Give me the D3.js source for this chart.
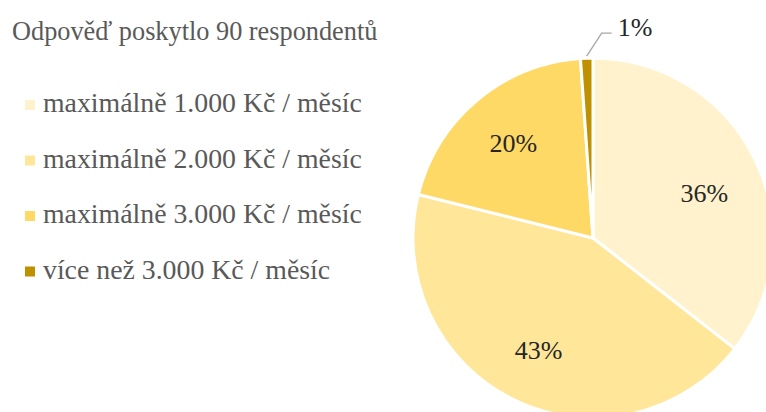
<!DOCTYPE html>
<html>
<head>
<meta charset="utf-8">
<script src="https://cdn.jsdelivr.net/npm/d3@7"></script>
<style>
  body { margin: 0; background: #fff; }
</style>
</head>
<body>
<script>
// data
var categories = ["maximálně 1.000 Kč / měsíc", "maximálně 2.000 Kč / měsíc", "maximálně 3.000 Kč / měsíc", "více než 3.000 Kč / měsíc"];
var counts = [32, 39, 18, 1];
var labels = ["36%", "43%", "20%", "1%"];
var colors = ["#FFF2CC", "#FFE699", "#FFD966", "#BF9000"];
var title = "Odpověď poskytlo 90 respondentů";

var width = 766, height = 412;
var cx = 593, cy = 238, radius = 180;
var serif = "'Liberation Serif'";

var svg = d3.select("body").append("svg")
    .attr("width", width)
    .attr("height", height);

var data = counts.map(function(v, i) { return {name: categories[i], value: v, label: labels[i], color: colors[i]}; });

var pie = d3.pie()
    .sort(null)
    .value(function(d) { return d.value; });

var arc = d3.arc()
    .innerRadius(0)
    .outerRadius(radius);

var labelArc = d3.arc()
    .innerRadius(124)
    .outerRadius(124);

var g = svg.append("g")
    .attr("transform", "translate(" + cx + "," + cy + ")");

var arcs = pie(data);

g.selectAll(".slice")
    .data(arcs)
  .enter().append("path")
    .attr("class", "slice")
    .attr("d", arc)
    .attr("fill", function(d) { return d.data.color; })
    .attr("stroke", "#fff")
    .attr("stroke-width", 3)
    .attr("stroke-linejoin", "round");

// labels inside (big slices)
g.selectAll(".lbl")
    .data(arcs.filter(function(d) { return d.data.value > 5; }))
  .enter().append("text")
    .attr("class", "lbl")
    .attr("transform", function(d) {
      var c = labelArc.centroid(d);
      // first slice label sits a bit lower in the original
      if (d.index === 0) c[1] += 9;
      return "translate(" + c + ")";
    })
    .attr("text-anchor", "middle")
    .attr("dy", "0.35em")
    .attr("font-family", serif)
    .attr("font-size", 26)
    .attr("fill", "#262626")
    .text(function(d) { return d.data.label; });

// small slice -> label outside with leader line
arcs.filter(function(d) { return d.data.value <= 5; }).forEach(function(d) {
  var a = (d.startAngle + d.endAngle) / 2;
  var p0 = [Math.sin(a) * (radius + 2), -Math.cos(a) * (radius + 2)];
  var p1 = [p0[0] + 15, p0[1] - 23];
  var p2 = [p1[0] + 10, p1[1]];
  g.append("polyline")
      .attr("points", [p0, p1, p2].map(function(p) { return p.join(","); }).join(" "))
      .attr("fill", "none")
      .attr("stroke", "#A6A6A6")
      .attr("stroke-width", 1.3);
  g.append("text")
      .attr("x", p2[0] + 6)
      .attr("y", p2[1])
      .attr("dy", "0.1em")
      .attr("font-family", serif)
      .attr("font-size", 26)
      .attr("fill", "#262626")
      .text(d.data.label);
});

// title
svg.append("text")
    .attr("x", 12)
    .attr("y", 40)
    .attr("font-family", serif)
    .attr("font-size", 26.3)
    .attr("fill", "#595959")
    .text(title);

// legend
var legend = svg.selectAll(".legend")
    .data(data)
  .enter().append("g")
    .attr("class", "legend")
    .attr("transform", function(d, i) { return "translate(25," + (112 + i * 55.5) + ")"; });

legend.append("rect")
    .attr("x", 0)
    .attr("y", -12)
    .attr("width", 10)
    .attr("height", 10)
    .attr("fill", function(d) { return d.color; });

legend.append("text")
    .attr("x", 18)
    .attr("y", 0)
    .attr("font-family", serif)
    .attr("font-size", 27.8)
    .attr("fill", "#595959")
    .text(function(d) { return d.name; });
</script>
</body>
</html>
